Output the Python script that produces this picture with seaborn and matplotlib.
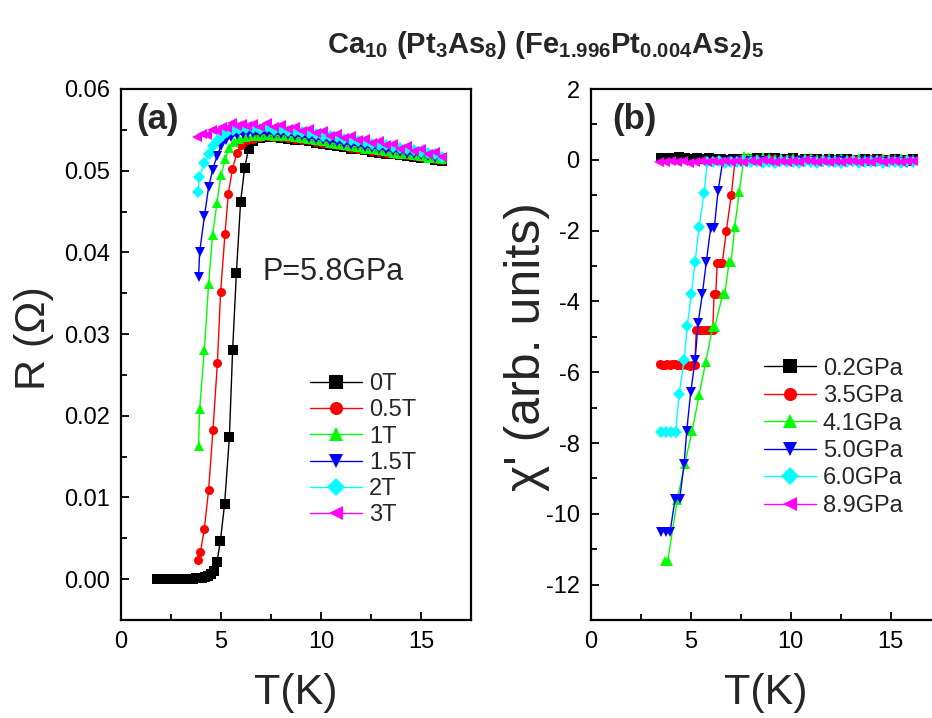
import numpy as np
import pandas as pd
import matplotlib
matplotlib.use('Agg')
import matplotlib.pyplot as plt
import seaborn as sns
from matplotlib.ticker import MultipleLocator, FormatStrFormatter

# ---------------- data: panel (a) R(T) at P = 5.8 GPa ----------------
fields = ['0T', '0.5T', '1T', '1.5T', '2T', '3T']
colors = ['#000000', '#FF0000', '#00FF00', '#0000FF', '#00FFFF', '#FF00FF']
markers = ['s', 'o', '^', 'v', 'D', '<']

T_high = [6.6, 6.95, 7.3, 7.65, 8.0, 8.35, 8.7, 9.05, 9.4, 9.75, 10.1, 10.45, 10.8, 11.15,
          11.5, 11.85, 12.2, 12.55, 12.9, 13.25, 13.6, 13.95, 14.3, 14.65, 15.0, 15.35, 15.7, 16.05]

T_0T = [1.8, 1.95, 2.1, 2.25, 2.4, 2.55, 2.7, 2.85, 3.0, 3.15, 3.3, 3.45, 3.6, 3.75, 3.9, 4.05,
        4.2, 4.35, 4.5, 4.65, 4.8, 4.97, 5.18, 5.42, 5.58, 5.77, 5.98, 6.18, 6.38]
R_0T = [0.0, 0.0, 0.0, 0.0, 0.0, 0.00001, 0.00001, 0.00002, 0.00002, 0.00003, 0.00004, 0.00005,
        0.00007, 0.00009, 0.00012, 0.00018, 0.00026, 0.00038, 0.0006, 0.001, 0.0021, 0.0047,
        0.0092, 0.0174, 0.028, 0.0375, 0.0462, 0.0503, 0.0527]
R_0T_high = [0.0536, 0.0540, 0.0541, 0.0541, 0.0540, 0.0539, 0.0538, 0.0537, 0.0536, 0.0534,
             0.0533, 0.0532, 0.0530, 0.0529, 0.0527, 0.0526, 0.0525, 0.0523, 0.0522, 0.0521,
             0.0520, 0.0519, 0.0518, 0.0517, 0.0516, 0.0515, 0.0513, 0.0512]

T_05T = [3.85, 3.97, 4.17, 4.38, 4.6, 4.82, 4.98, 5.2, 5.37, 5.57, 5.8, 6.02, 6.3]
R_05T = [0.0023, 0.0033, 0.0062, 0.0109, 0.0183, 0.0265, 0.0351, 0.0423, 0.0472, 0.0502,
         0.0522, 0.0531, 0.0537]
R_05T_high = [0.0539, 0.0541, 0.0542, 0.0541, 0.0541, 0.0540, 0.0539, 0.0538, 0.0537, 0.0535,
              0.0534, 0.0533, 0.0531, 0.0530, 0.0528, 0.0527, 0.0526, 0.0524, 0.0523, 0.0522,
              0.0521, 0.0520, 0.0519, 0.0518, 0.0517, 0.0515, 0.0514, 0.0513]

T_1T = [3.88, 3.93, 4.17, 4.38, 4.58, 4.8, 5.0, 5.22, 5.4, 5.65, 5.9, 6.2]
R_1T = [0.0163, 0.0208, 0.0281, 0.0361, 0.0421, 0.0461, 0.0495, 0.0514, 0.0528, 0.0535,
        0.0539, 0.0541]
R_1T_high = [0.0542, 0.0543, 0.0544, 0.0543, 0.0543, 0.0542, 0.0541, 0.0540, 0.0539, 0.0537,
             0.0536, 0.0534, 0.0533, 0.0532, 0.0530, 0.0529, 0.0527, 0.0526, 0.0525, 0.0524,
             0.0522, 0.0521, 0.0520, 0.0519, 0.0518, 0.0516, 0.0515, 0.0514]

T_15T = [3.88, 3.93, 4.17, 4.38, 4.58, 4.8, 5.0, 5.25, 5.5, 5.8, 6.1, 6.35]
R_15T = [0.0370, 0.0400, 0.0444, 0.0480, 0.0501, 0.0518, 0.0530, 0.0537, 0.0541, 0.0544,
         0.0545, 0.0546]
R_15T_high = [0.0546, 0.0546, 0.0546, 0.0545, 0.0545, 0.0544, 0.0543, 0.0542, 0.0540, 0.0539,
              0.0538, 0.0536, 0.0535, 0.0533, 0.0532, 0.0531, 0.0529, 0.0528, 0.0527, 0.0525,
              0.0524, 0.0523, 0.0521, 0.0520, 0.0519, 0.0518, 0.0516, 0.0515]

T_2T = [3.85, 3.9, 4.17, 4.38, 4.6, 4.83, 5.05, 5.3, 5.6, 5.9, 6.25]
R_2T = [0.0474, 0.0492, 0.0509, 0.0521, 0.0530, 0.0537, 0.0543, 0.0547, 0.0550, 0.0551, 0.0552]
R_2T_high = [0.0552, 0.0551, 0.0553, 0.0550, 0.0551, 0.0549, 0.0549, 0.0547, 0.0546, 0.0545,
             0.0543, 0.0542, 0.0541, 0.0539, 0.0538, 0.0536, 0.0535, 0.0533, 0.0532, 0.0531,
             0.0529, 0.0528, 0.0526, 0.0525, 0.0523, 0.0522, 0.0520, 0.0517]

T_3T = [3.8, 4.05, 4.3, 4.55, 4.8, 5.05, 5.3, 5.55, 5.8, 6.05, 6.3]
R_3T = [0.0541, 0.0545, 0.0544, 0.0550, 0.0549, 0.0553, 0.0552, 0.0558, 0.0555, 0.0557, 0.0555]
R_3T_high = [0.0557, 0.0554, 0.0558, 0.0553, 0.0556, 0.0551, 0.0553, 0.0549, 0.0551, 0.0546,
             0.0548, 0.0543, 0.0545, 0.0540, 0.0542, 0.0537, 0.0539, 0.0534, 0.0536, 0.0531,
             0.0533, 0.0527, 0.0530, 0.0524, 0.0527, 0.0520, 0.0523, 0.0517]

# ---------------- data: panel (b) chi'(T) at several pressures ----------------
pressures = ['0.2GPa', '3.5GPa', '4.1GPa', '5.0GPa', '6.0GPa', '8.9GPa']

T_tail = [8.0, 8.3, 8.6, 8.9, 9.2, 9.5, 9.8, 10.1, 10.4, 10.7, 11.0, 11.3, 11.6, 11.9,
          12.2, 12.5, 12.8, 13.1, 13.4, 13.7, 14.0, 14.3, 14.6, 14.9, 15.2, 15.5, 15.8, 16.1]

T_02 = [3.5, 3.8, 4.1, 4.4, 4.7, 5.0, 5.3, 5.6, 5.9, 6.2, 6.5, 6.8, 7.1, 7.4, 7.7]
X_02 = [0.05, 0.06, 0.04, 0.07, 0.05, 0.03, 0.06, 0.02, 0.04, 0.01, 0.03, 0.0, 0.02, 0.01, 0.03]
X_02_tail = [0.02, 0.05, 0.01, 0.04, 0.06, 0.02, 0.03, 0.05, 0.00, 0.02, 0.01, 0.03, -0.01, 0.02,
             0.00, 0.01, 0.03, -0.01, 0.00, 0.02, -0.02, 0.01, 0.00, -0.01, 0.02, 0.00, -0.02, 0.01]

T_35 = [3.45, 3.58, 3.7, 3.82, 3.95, 4.08, 4.2, 4.33, 4.45, 4.58, 4.7, 4.83, 4.95, 5.08, 5.2,
        5.28, 5.42, 5.56, 5.7, 5.84, 5.98, 6.1, 6.17, 6.25, 6.33, 6.45, 6.58, 6.78, 7.03,
        7.22, 7.5, 7.75]
X_35 = [-5.78, -5.80, -5.79, -5.77, -5.80, -5.78, -5.76, -5.79, -5.81, -5.80, -5.78, -5.80,
        -5.82, -5.80, -5.79, -4.81, -4.80, -4.82, -4.80, -4.81, -4.80, -4.82, -3.80, -3.80,
        -2.91, -2.91, -2.91, -2.02, -0.99, 0.00, 0.02, -0.01]
X_35_tail = [0.00, 0.02, -0.01, 0.01, 0.03, 0.00, 0.02, -0.02, 0.01, 0.00, 0.02, -0.01, 0.01, 0.00,
             -0.02, 0.01, 0.00, 0.02, -0.01, 0.00, 0.01, -0.02, 0.00, 0.01, -0.01, 0.00, 0.02, 0.00]

T_41 = [3.7, 3.85, 4.33, 4.7, 5.07, 5.42, 5.75, 6.1, 6.2, 6.6, 6.7, 6.92, 7.02, 7.2, 7.43,
        7.67, 7.85]
X_41 = [-11.34, -11.34, -9.6, -8.6, -7.66, -6.65, -5.71, -4.73, -4.73, -3.80, -3.80, -2.89,
        -2.89, -1.90, -0.91, 0.10, 0.08]
X_41_tail = [0.06, 0.03, 0.07, 0.04, 0.02, 0.05, 0.03, 0.06, 0.02, 0.04, 0.05, 0.01, 0.03, 0.05,
             0.02, 0.04, 0.01, 0.03, 0.05, 0.02, 0.00, 0.03, 0.04, 0.01, 0.02, 0.04, 0.01, 0.02]

T_50 = [3.53, 3.75, 3.97, 4.22, 4.45, 4.67, 4.8, 5.0, 5.22, 5.37, 5.58, 5.78, 6.0, 6.18, 6.37,
        6.6, 6.9, 7.2, 7.5, 7.75]
X_50 = [-10.5, -10.5, -10.5, -9.58, -9.58, -8.59, -7.66, -6.57, -5.66, -4.61, -3.80, -2.89,
        -1.92, -1.92, -0.87, -0.05, -0.06, -0.03, -0.07, -0.05]
X_50_tail = [-0.04, -0.07, -0.03, -0.06, -0.08, -0.04, -0.05, -0.07, -0.03, -0.06, -0.04, -0.08,
             -0.05, -0.03, -0.07, -0.04, -0.06, -0.05, -0.08, -0.03, -0.06, -0.04, -0.07, -0.05,
             -0.03, -0.06, -0.08, -0.04]

T_60 = [3.5, 3.75, 4.0, 4.25, 4.42, 4.67, 4.83, 5.03, 5.22, 5.42, 5.67, 5.83, 6.1, 6.4, 6.7,
        7.0, 7.3, 7.6]
X_60 = [-7.69, -7.69, -7.69, -7.69, -6.62, -5.66, -4.70, -3.79, -2.88, -1.90, -0.95, -0.05,
        -0.07, -0.04, -0.08, -0.05, -0.06, -0.03]
X_60_tail = [-0.06, -0.03, -0.08, -0.05, -0.09, -0.04, -0.07, -0.05, -0.08, -0.03, -0.06, -0.09,
             -0.04, -0.07, -0.05, -0.08, -0.06, -0.04, -0.09, -0.05, -0.07, -0.03, -0.08, -0.06,
             -0.05, -0.09, -0.04, -0.06]

T_89 = [3.4, 3.7, 4.0, 4.3, 4.6, 4.9, 5.2, 5.5, 5.8, 6.1, 6.4, 6.7, 7.0, 7.3, 7.6]
X_89 = [-0.05, -0.07, -0.04, -0.06, -0.03, -0.08, -0.05, -0.04, -0.07, -0.02, -0.06, -0.04,
        -0.07, -0.03, -0.05]
X_89_tail = [-0.03, -0.06, -0.01, -0.04, -0.07, -0.02, -0.05, -0.03, -0.06, -0.01, -0.04, -0.07,
             -0.02, -0.05, -0.03, -0.06, -0.02, -0.04, -0.07, -0.03, -0.05, -0.01, -0.06, -0.03,
             -0.04, -0.07, -0.02, -0.03]

# ---------------- build long tables ----------------
series_a = [
    (fields[0], T_0T + T_high, R_0T + R_0T_high),
    (fields[1], T_05T + T_high, R_05T + R_05T_high),
    (fields[2], T_1T + T_high, R_1T + R_1T_high),
    (fields[3], T_15T + T_high, R_15T + R_15T_high),
    (fields[4], T_2T + T_high, R_2T + R_2T_high),
    (fields[5], T_3T + T_high, R_3T + R_3T_high),
]
series_b = [
    (pressures[0], T_02 + T_tail, X_02 + X_02_tail),
    (pressures[1], T_35 + T_tail, X_35 + X_35_tail),
    (pressures[2], T_41 + T_tail, X_41 + X_41_tail),
    (pressures[3], T_50 + T_tail, X_50 + X_50_tail),
    (pressures[4], T_60 + T_tail, X_60 + X_60_tail),
    (pressures[5], T_89 + T_tail, X_89 + X_89_tail),
]
df_a = pd.concat([pd.DataFrame({'T': t, 'R': r, 'field': n}) for n, t, r in series_a],
                 ignore_index=True)
df_b = pd.concat([pd.DataFrame({'T': t, 'chi': c, 'P': n}) for n, t, c in series_b],
                 ignore_index=True)

# ---------------- style ----------------
sns.set_style('ticks')
plt.rcParams['font.family'] = ['Liberation Sans', 'DejaVu Sans']
plt.rcParams['mathtext.default'] = 'regular'
plt.rcParams['axes.unicode_minus'] = False
plt.rcParams['axes.linewidth'] = 1.6

fig = plt.figure(figsize=(9.32, 7.18), dpi=100)
fig.patch.set_facecolor('white')
ax_a = fig.add_axes([121 / 932, 98 / 718, 350 / 932, 531 / 718])
ax_b = fig.add_axes([590.7 / 932, 98 / 718, 350 / 932, 531 / 718])

line_kw = dict(dashes=False, sort=False, estimator=None, markersize=6.5,
               markeredgewidth=0, linewidth=1.0, legend=False)

sns.lineplot(data=df_a, x='T', y='R', hue='field', style='field', hue_order=fields,
             style_order=fields, palette=colors, markers=markers, ax=ax_a, **line_kw)
sns.lineplot(data=df_b, x='T', y='chi', hue='P', style='P', hue_order=pressures,
             style_order=pressures, palette=colors, markers=markers, ax=ax_b, **line_kw)

for ax in (ax_a, ax_b):
    ax.set_xlim(0, 17.5)
    ax.xaxis.set_major_locator(MultipleLocator(5))
    ax.xaxis.set_minor_locator(MultipleLocator(2.5))
    ax.tick_params(which='both', direction='in', top=False, right=False, width=1.3,
                   labelsize=17, colors='black')
    ax.tick_params(which='major', length=6, pad=8)
    ax.tick_params(which='minor', length=4)
    ax.set_xlabel('T(K)', fontsize=31, labelpad=14)
    for s in ax.spines.values():
        s.set_visible(True)
        s.set_linewidth(1.6)
        s.set_color('black')

ax_a.set_ylim(-0.005, 0.06)
ax_a.yaxis.set_major_locator(MultipleLocator(0.01))
ax_a.yaxis.set_minor_locator(MultipleLocator(0.005))
ax_a.yaxis.set_major_formatter(FormatStrFormatter('%.2f'))
ax_a.set_ylabel('R (Ω)', fontsize=31)
ax_a.yaxis.set_label_coords(-0.19, 0.53)

ax_b.set_ylim(-13, 2)
ax_b.yaxis.set_major_locator(MultipleLocator(2))
ax_b.yaxis.set_minor_locator(MultipleLocator(1))
ax_b.set_ylabel("χ' (arb. units)", fontsize=36)
ax_b.yaxis.set_label_coords(-0.115, 0.515)

leg_kw = dict(frameon=False, fontsize=17, markerscale=1.45, handlelength=2.2,
              handletextpad=0.3, borderpad=0, borderaxespad=0, loc='upper left')
ax_a.legend(handles=ax_a.lines[:6], labels=fields, bbox_to_anchor=(0.54, 0.465),
            labelspacing=0.18, **leg_kw)
ax_b.legend(handles=ax_b.lines[:6], labels=pressures, bbox_to_anchor=(0.495, 0.494),
            labelspacing=0.23, **leg_kw)

ax_a.text(0.045, 0.943, '(a)', transform=ax_a.transAxes, fontsize=25, fontweight='bold',
          va='center', ha='left')
ax_b.text(0.062, 0.942, '(b)', transform=ax_b.transAxes, fontsize=25, fontweight='bold',
          va='center', ha='left')
ax_a.text(0.405, 0.655, 'P=5.8GPa', transform=ax_a.transAxes, fontsize=22,
          va='center', ha='left')

fig.text(0.585, 0.937, 'Ca$_{10}$ (Pt$_3$As$_8$) (Fe$_{1.996}$Pt$_{0.004}$As$_2$)$_5$',
         fontsize=21, fontweight='bold', ha='center', va='center')

fig.savefig('out.png', dpi=100, facecolor='white')
